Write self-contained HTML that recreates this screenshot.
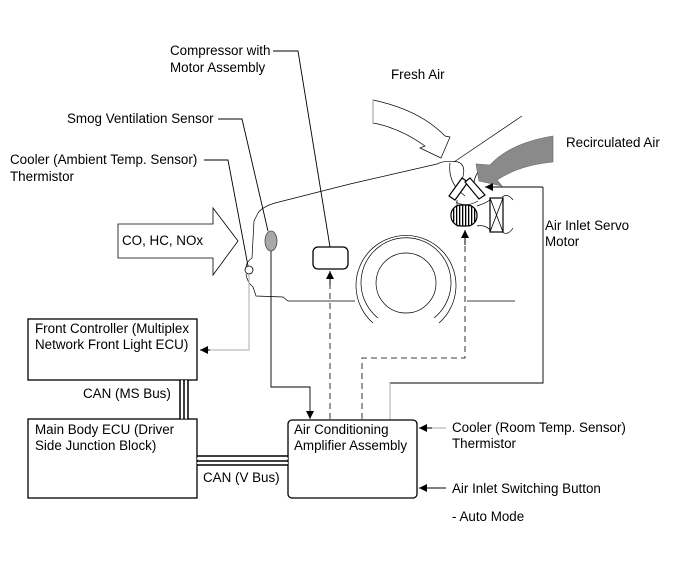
<!DOCTYPE html>
<html><head><meta charset="utf-8"><style>
body{margin:0;background:#fff}
svg{display:block}
text{font-family:"Liberation Sans",sans-serif;font-size:13.4px;fill:#000}
</style></head><body>
<svg width="690" height="561" viewBox="0 0 690 561" xmlns="http://www.w3.org/2000/svg">
<defs>
<marker id="ah" viewBox="0 0 10 10" refX="10" refY="5" markerWidth="10" markerHeight="8" markerUnits="userSpaceOnUse" orient="auto"><path d="M0,0L10,5L0,10z" fill="#000"/></marker>
<pattern id="st" width="3" height="10" patternUnits="userSpaceOnUse"><rect width="3" height="10" fill="#fff"/><rect width="1.3" height="10" fill="#000"/></pattern>
</defs>
<!-- CO arrow -->
<path d="M118,224H213V208L238,241L213,275V258H118Z" fill="#fff" stroke="#000" stroke-width="0.8"/>
<!-- car outline -->
<g fill="none" stroke="#000" stroke-width="0.7">
<path d="M437,164L350,184L275,203Q262,207 258,213L254,221L252,258Q246,262 246,268"/>
<path d="M246,274Q247,282 253,287L256,296L283,297L288,301H355"/>
<path d="M467,301H515"/>
<path d="M454,162L522,116"/>
<path d="M437,164Q445,160 458,162Q467,165 462,180"/>
<path d="M450,163Q448,178 458,190L465,196"/>
<path d="M478,172Q474,178 474,184"/>
<path d="M457,200V226H470"/>
<path d="M477,226Q486,224 492,232"/>
<path d="M477,206Q486,203 490,200"/>
<path d="M502,197Q508,193 513,200"/>
<path d="M502,232Q508,236 513,228"/>
<circle cx="406" cy="283" r="30"/>
<path d="M373,323A50,50 0 1 1 439,323"/>
<path d="M378,318A45,45 0 1 1 434,318"/>
</g>
<!-- fresh air arrow -->
<path d="M373,100Q420,110 445,136L450,137L441,158L420,148L425,146Q400,128 373,123Z" fill="#fff" stroke="#000" stroke-width="0.7"/>
<path d="M373,100V123" stroke="#bbb" stroke-width="1.5"/>
<!-- recirc arrow -->
<path d="M553,136Q510,143 490,165L476,164L479,181L502,186L497,180Q520,165 553,162Z" fill="#8a8a8a" stroke="#666" stroke-width="0.6"/>
<!-- damper -->
<g stroke="#000" stroke-width="1.2" fill="#fff">
<path d="M449,196L462,178L468,182L455,200Z"/>
<path d="M470,178L485,195L479,199L465,182Z"/>
</g>
<path d="M456,202Q466,208 478,201" fill="none" stroke="#000" stroke-width="0.7"/>
<rect x="451" y="205" width="26" height="21" rx="10" fill="url(#st)" stroke="#000" stroke-width="1.2"/>
<rect x="490" y="198" width="13" height="34" fill="#fff" stroke="#000" stroke-width="1.2"/>
<path d="M490,198L503,232M503,198L490,232" stroke="#000" stroke-width="0.8"/>
<!-- sensors/components -->
<ellipse cx="271" cy="241" rx="6" ry="10" fill="#a8a8a8" stroke="#444" stroke-width="0.8"/>
<circle cx="249" cy="270" r="4" fill="#fff" stroke="#000" stroke-width="0.8"/>
<rect x="313" y="247" width="35" height="22" rx="5" fill="#fff" stroke="#000" stroke-width="1.3"/>
<!-- leaders -->
<g fill="none" stroke="#000" stroke-width="0.9">
<path d="M273,51H298L330,247"/>
<path d="M218,119H242L268,231"/>
<path d="M204,160H228L248,266"/>
<path d="M271,251V387H310V419" marker-end="url(#ah)"/>
<path d="M543,187H485" marker-end="url(#ah)"/>
<path d="M543,187V383H390V420"/>
<path d="M446,488H419" marker-end="url(#ah)"/>
</g>
<g fill="none" stroke="#bbb" stroke-width="1.2">
<path d="M249,275V350H205"/>
<path d="M446,428H425"/>
<path d="M390,383V420"/>
</g>
<path d="M210,350H200" stroke="#000" marker-end="url(#ah)"/>
<path d="M432,428H419" stroke="#000" marker-end="url(#ah)"/>
<!-- dashed -->
<g fill="none" stroke="#000" stroke-width="0.8" stroke-dasharray="6,4">
<path d="M330,419V272"/>
<path d="M362,419V358H465V232"/>
</g>
<path d="M330,285V271" stroke="#000" marker-end="url(#ah)"/>
<path d="M465,245V230" stroke="#000" marker-end="url(#ah)"/>
<!-- boxes -->
<rect x="28" y="319" width="169" height="61" fill="#fff" stroke="#000" stroke-width="1.3"/>
<rect x="28" y="419" width="169" height="79" fill="#fff" stroke="#000" stroke-width="1.3"/>
<rect x="288" y="420" width="129" height="78" rx="4" fill="#fff" stroke="#000" stroke-width="1.3"/>
<!-- buses -->
<g stroke="#000" stroke-width="1.5">
<path d="M180,380V419M184,380V419M188,380V419"/>
<path d="M197,456H288M197,461H288M197,465H288"/>
</g>
<path d="M182,380V419M186,380V419" stroke="#fff" stroke-width="1.2"/>
<path d="M197,458.5H288M197,463H288" stroke="#fff" stroke-width="1.5"/>
<!-- labels -->
<text x="170" y="55">Compressor with</text>
<text x="170" y="72">Motor Assembly</text>
<text x="67" y="123">Smog Ventilation Sensor</text>
<text x="10" y="164">Cooler (Ambient Temp. Sensor)</text>
<text x="10" y="181">Thermistor</text>
<text x="391" y="79">Fresh Air</text>
<text x="566" y="147">Recirculated Air</text>
<text x="545" y="230">Air Inlet Servo</text>
<text x="545" y="246">Motor</text>
<text x="122" y="245">CO, HC, NOx</text>
<text x="35" y="333">Front Controller (Multiplex</text>
<text x="35" y="349">Network Front Light ECU)</text>
<text x="83" y="398">CAN (MS Bus)</text>
<text x="35" y="434">Main Body ECU (Driver</text>
<text x="35" y="450">Side Junction Block)</text>
<text x="203" y="482">CAN (V Bus)</text>
<text x="294" y="434">Air Conditioning</text>
<text x="294" y="450">Amplifier Assembly</text>
<text x="452" y="432">Cooler (Room Temp. Sensor)</text>
<text x="452" y="448">Thermistor</text>
<text x="452" y="493">Air Inlet Switching Button</text>
<text x="452" y="521">- Auto Mode</text>
</svg>
</body></html>
